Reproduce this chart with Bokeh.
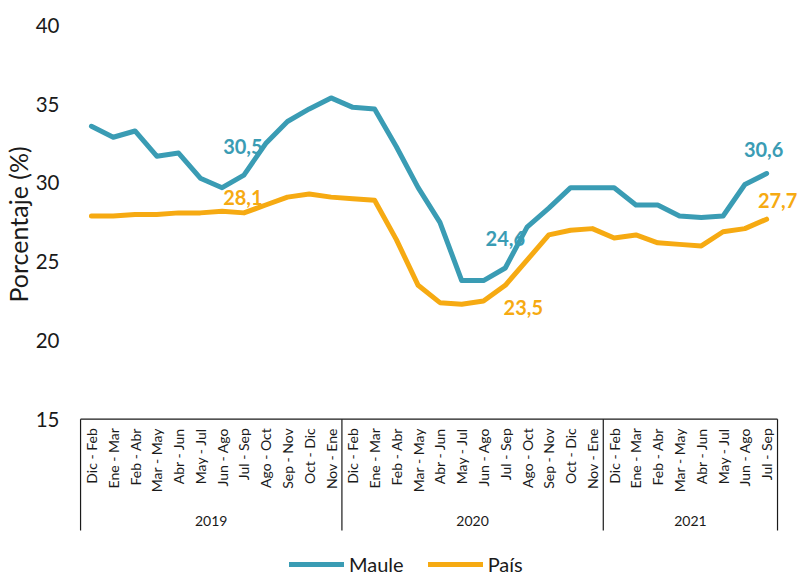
import math
from bokeh.plotting import figure
from bokeh.models import Range1d, FixedTicker, Title, Legend, LegendItem
from bokeh.core.properties import value
from bokeh.embed import file_html
from bokeh.resources import INLINE

# ---------------- data ----------------
years = ["2019", "2020", "2021"]
periods_2019 = ["Dic - Feb", "Ene - Mar", "Feb - Abr", "Mar - May", "Abr - Jun", "May - Jul",
                "Jun - Ago", "Jul - Sep", "Ago - Oct", "Sep - Nov", "Oct - Dic", "Nov - Ene"]
periods_2020 = ["Dic - Feb", "Ene - Mar", "Feb - Abr", "Mar - May", "Abr - Jun", "May - Jul",
                "Jun - Ago", "Jul - Sep", "Ago - Oct", "Sep - Nov", "Oct - Dic", "Nov - Ene"]
periods_2021 = ["Dic - Feb", "Ene - Mar", "Feb - Abr", "Mar - May", "Abr - Jun", "May - Jul",
                "Jun - Ago", "Jul - Sep"]
maule = [33.6, 32.9, 33.3, 31.7, 31.9, 30.3, 29.7, 30.5, 32.5, 33.9, 34.7, 35.4,
         34.8, 34.7, 32.3, 29.7, 27.5, 23.8, 23.8, 24.6, 27.2, 28.4, 29.7, 29.7,
         29.7, 28.6, 28.6, 27.9, 27.8, 27.9, 29.9, 30.6]
pais = [27.9, 27.9, 28.0, 28.0, 28.1, 28.1, 28.2, 28.1, 28.6, 29.1, 29.3, 29.1,
        29.0, 28.9, 26.4, 23.5, 22.4, 22.3, 22.5, 23.5, 25.1, 26.7, 27.0, 27.1,
        26.5, 26.7, 26.2, 26.1, 26.0, 26.9, 27.1, 27.7]
y_ticks = [15, 20, 25, 30, 35, 40]
labelled_points = [7, 19, 31]
series_names = ["Maule", "País"]

# ---------------- styling ----------------
TEAL = "#3A9CB4"
ORANGE = "#F6AA12"
FONT = "Lato"
INK = "#1a1a1a"

groups = [periods_2019, periods_2020, periods_2021]
periods = [p_ for g in groups for p_ in g]
n = len(periods)
xs = list(range(n))

# geometry (pixels, page coordinates; the figure sits at the page origin)
W, H = 798, 576
FRAME_LEFT_PX = 70
X0_PX = 89.0
X_STEP = 21.84
Y15_PX = 418.7
Y_STEP = 15.75

x_start = (FRAME_LEFT_PX - X0_PX) / X_STEP
x_end = (W - X0_PX) / X_STEP
y_end = 15 + Y15_PX / Y_STEP
y_start = 15 - (H - Y15_PX) / Y_STEP
PX = 1.0 / Y_STEP

p = figure(width=W, height=H, output_backend="svg", toolbar_location=None,
           x_range=Range1d(x_start, x_end), y_range=Range1d(y_start, y_end),
           x_axis_location=None, title=None,
           min_border_left=FRAME_LEFT_PX, min_border_right=0,
           min_border_top=0, min_border_bottom=0)
p.outline_line_color = None
p.grid.visible = False
p.background_fill_color = "white"

yax = p.yaxis[0]
yax.ticker = FixedTicker(ticks=y_ticks)
yax.axis_line_color = None
yax.major_tick_line_color = None
yax.minor_tick_line_color = None
yax.major_tick_in = 0
yax.major_tick_out = 0
yax.major_label_standoff = 13
yax.major_label_text_font = FONT
yax.major_label_text_font_size = "20.5px"
yax.major_label_text_color = INK

ttl = Title(text="Porcentaje (%)", align="left", offset=H - 302, standoff=0,
            text_font=FONT, text_font_size="25px", text_font_style="normal",
            text_color=INK)
p.add_layout(ttl, "left")

# axis frame: baseline + group separators
lo = -0.5
hi = n - 0.5
sep_bottom = 15 - (530 - Y15_PX) * PX
p.segment(x0=[lo], y0=[15], x1=[hi], y1=[15], line_color=INK, line_width=1.2)
bounds = [lo]
acc = 0
for g in groups:
    acc += len(g)
    bounds.append(acc - 0.5)
p.segment(x0=bounds, y0=[15] * len(bounds), x1=bounds, y1=[sep_bottom] * len(bounds),
          line_color=INK, line_width=1.2)

# category labels (rotated)
cat_y = 15 - 9 * PX
p.text(x=xs, y=[cat_y] * n, text=periods, angle=math.pi / 2,
       text_align="right", text_baseline="middle",
       text_font=value(FONT), text_font_size="14px", text_color=INK)

# year labels
centers = [(bounds[i] + bounds[i + 1]) / 2 for i in range(len(years))]
year_y = 15 - (520 - Y15_PX) * PX
p.text(x=centers, y=[year_y] * len(years), text=years, text_align="center",
       text_baseline="middle", text_font=value(FONT), text_font_size="14px",
       text_color=INK)

# series
r1 = p.line(xs, maule, line_color=TEAL, line_width=5, line_cap="round", line_join="round")
r2 = p.line(xs, pais, line_color=ORANGE, line_width=5, line_cap="round", line_join="round")

# data labels
def fmt(v):
    return f"{v:.1f}".replace(".", ",")

m_off = [(-1, -29), (0, -30), (-3, -24)]
p_off = [(-1, -15), (18, 22), (11, -19)]
for (idx, (mx, my), (qx, qy)) in zip(labelled_points, m_off, p_off):
    p.text(x=[idx], y=[maule[idx]], text=[fmt(maule[idx])], x_offset=mx, y_offset=my,
           text_align="center", text_baseline="middle", text_font=value(FONT),
           text_font_size="20px", text_font_style="bold", text_color=TEAL)
    p.text(x=[idx], y=[pais[idx]], text=[fmt(pais[idx])], x_offset=qx, y_offset=qy,
           text_align="center", text_baseline="middle", text_font=value(FONT),
           text_font_size="20px", text_font_style="bold", text_color=ORANGE)

legend = Legend(items=[LegendItem(label=series_names[0], renderers=[r1]),
                       LegendItem(label=series_names[1], renderers=[r2])],
                orientation="horizontal", location=(287 - FRAME_LEFT_PX, 0),
                glyph_width=55, glyph_height=20, label_height=20, label_standoff=5,
                spacing=24, padding=0, margin=0, border_line_color=None,
                background_fill_alpha=0, label_text_font=FONT,
                label_text_font_size="20px", label_text_color=INK)
p.add_layout(legend)

open("out.html", "w").write(file_html(p, INLINE))
